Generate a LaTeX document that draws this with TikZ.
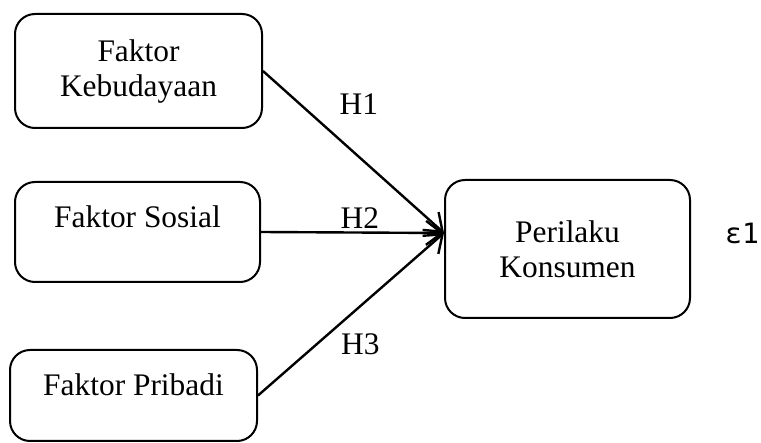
\documentclass[tikz,border=0pt]{standalone}
\usepackage{fontspec}
\setmainfont{Liberation Serif}
\newfontfamily\epsfont{DejaVu Sans Mono}
\usetikzlibrary{arrows.meta, positioning, calc}

\begin{document}
\begin{tikzpicture}[x=0.5pt, y=-0.5pt, line width=1pt,
    factor/.style={draw, rounded corners=10pt, align=center, inner sep=0pt,
        font=\fontsize{15.7}{17.5}\selectfont},
    hyp/.style={font=\fontsize{15.7}{17.5}\selectfont}]
    \useasboundingbox (0,0) rectangle (761,443);

    \node[factor, minimum width=123.5pt, minimum height=57pt] (budaya) at (138.5,71) {Faktor\\Kebudayaan};
    \node[factor, minimum width=122.5pt, minimum height=50pt, text depth=15pt] (sosial) at (137.5,232) {Faktor Sosial};
    \node[factor, minimum width=123.5pt, minimum height=45.5pt, text depth=11pt] (pribadi) at (133.5,395.5) {Faktor Pribadi};
    \node[factor, minimum width=122.5pt, minimum height=69pt] (perilaku) at (567.5,249) {Perilaku\\Konsumen};
    \node[font=\epsfont\fontsize{14}{16}\selectfont] (eps) at (742,233) {ε1};

    \coordinate (tip) at ([yshift=8pt]perilaku.west);

    \path[-{Straight Barb[length=8pt, width=12pt]}, line width=1.2pt]
    (budaya.east)  edge node[hyp, pos=0.53, yshift=26.5pt] (h1) {H1} (tip)
    (sosial.east)  edge node[hyp, pos=0.54, yshift=7.2pt] (h2) {H2} (tip)
    (pribadi.east) edge node[hyp, pos=0.55, yshift=-19pt] (h3) {H3} (tip);
\end{tikzpicture}
\end{document}
